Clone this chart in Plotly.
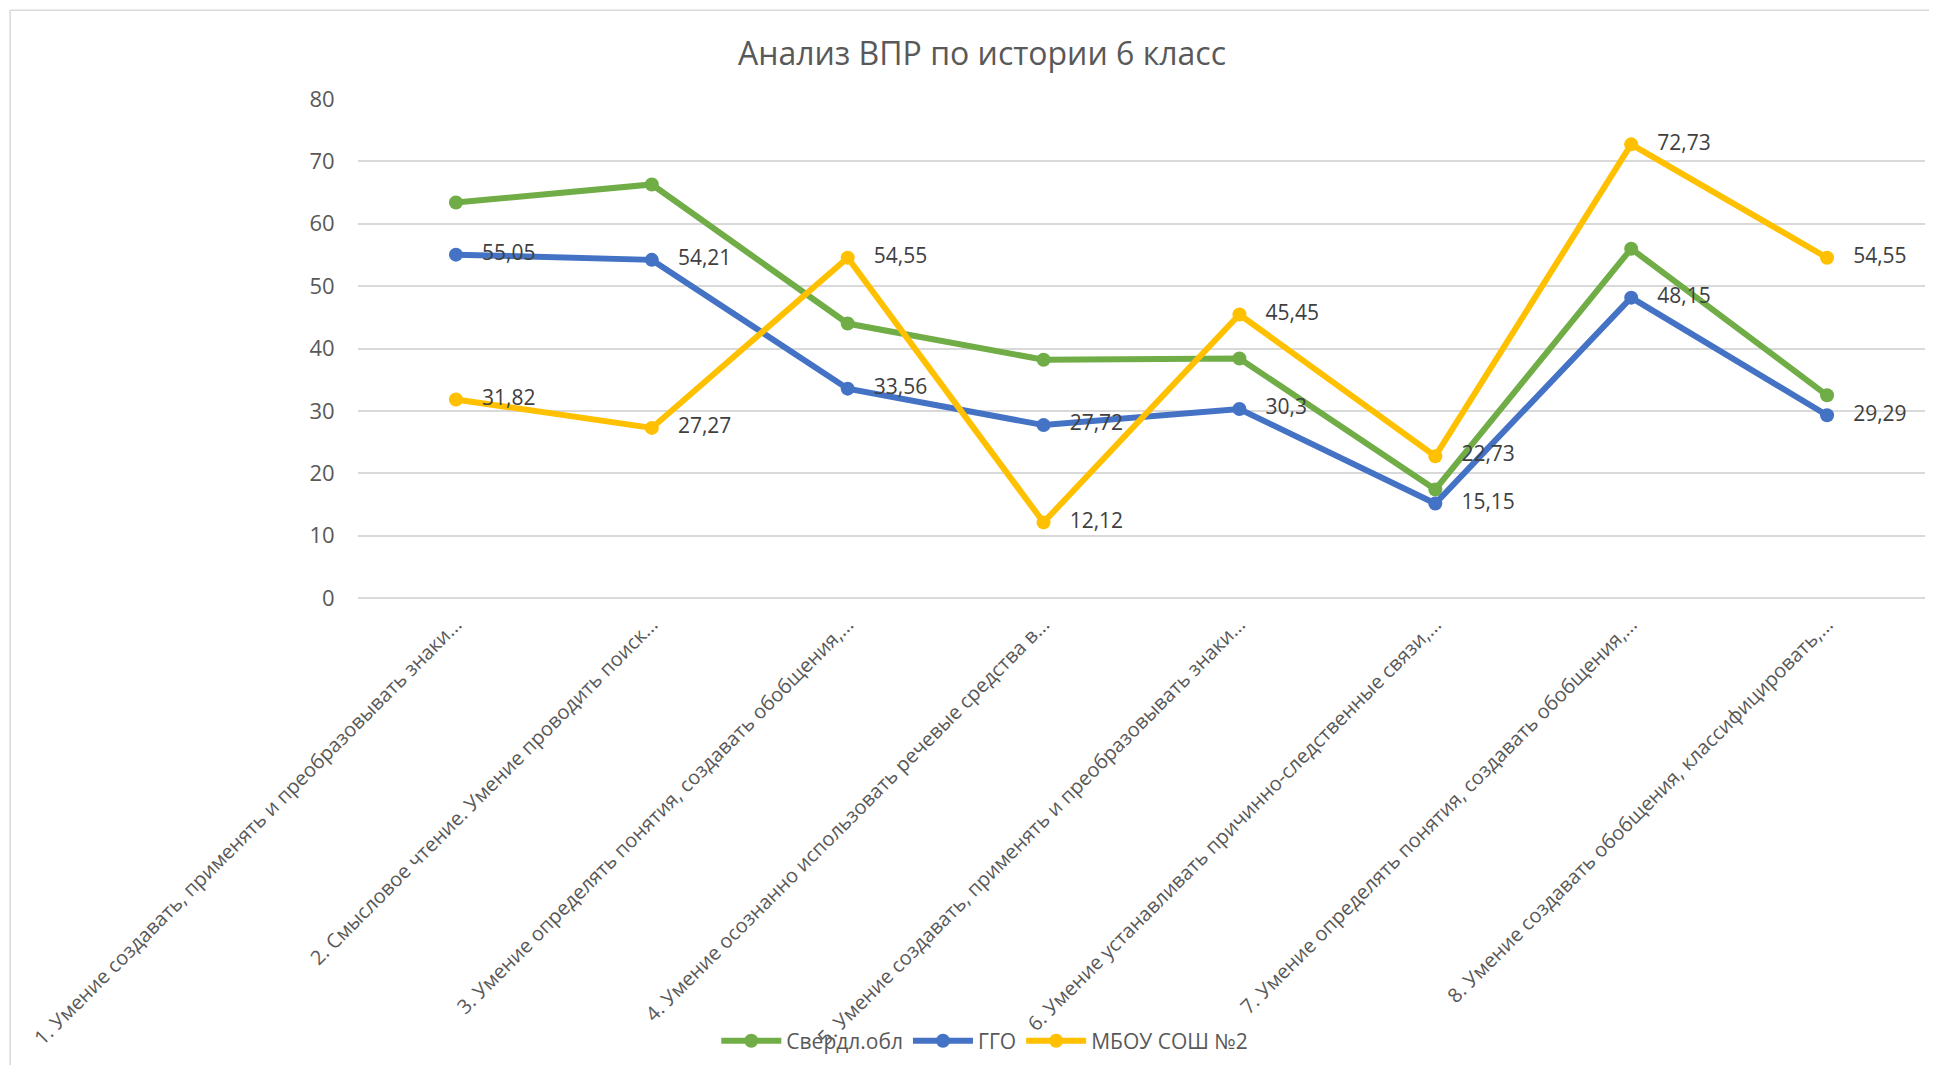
import plotly.graph_objects as go

categories = [
    "1. Умение создавать, применять и преобразовывать знаки...",
    "2. Смысловое чтение. Умение проводить поиск...",
    "3. Умение определять понятия, создавать обобщения,...",
    "4. Умение осознанно использовать речевые средства в...",
    "5. Умение создавать, применять и преобразовывать знаки...",
    "6. Умение устанавливать причинно-следственные связи,...",
    "7. Умение определять понятия, создавать обобщения,...",
    "8. Умение создавать обобщения, классифицировать,...",
]
sverdl = [63.4, 66.3, 44.0, 38.2, 38.4, 17.4, 56.0, 32.5]
ggo = [55.05, 54.21, 33.56, 27.72, 30.3, 15.15, 48.15, 29.29]
mbou = [31.82, 27.27, 54.55, 12.12, 45.45, 22.73, 72.73, 54.55]

FONT = "Open Sans"
TXT = "#595959"


def fmt(v):
    return "   " + f"{v:g}".replace(".", ",")


fig = go.Figure()
fig.add_trace(go.Scatter(
    x=categories, y=sverdl, name="Свердл.обл", mode="lines+markers",
    line=dict(color="#70AD47", width=6), marker=dict(size=14),
))
fig.add_trace(go.Scatter(
    x=categories, y=ggo, name="ГГО", mode="lines+markers+text",
    line=dict(color="#4472C4", width=6), marker=dict(size=14),
    text=[fmt(v) for v in ggo], textposition="middle right",
    textfont=dict(family=FONT, size=21, color="#404040"),
))
fig.add_trace(go.Scatter(
    x=categories, y=mbou, name="МБОУ СОШ №2", mode="lines+markers+text",
    line=dict(color="#FFC000", width=6), marker=dict(size=14),
    text=[fmt(v) for v in mbou], textposition="middle right",
    textfont=dict(family=FONT, size=21, color="#404040"),
))

fig.update_layout(
    width=1921, height=1057,
    margin=dict(l=350, r=4, t=91, b=467),
    plot_bgcolor="white", paper_bgcolor="white",
    font=dict(family=FONT, color=TXT),
    title=dict(text="Анализ ВПР по истории 6 класс", x=0.507, xanchor="center",
               y=0.9565, yanchor="middle", font=dict(size=32, color=TXT)),
    legend=dict(orientation="h", x=0.40, xanchor="center", y=-0.888, yanchor="middle",
                font=dict(size=21, color=TXT), itemwidth=60, bgcolor="rgba(0,0,0,0)"),
    showlegend=True,
)
fig.update_xaxes(
    type="category", tickangle=-45, automargin=False,
    tickfont=dict(size=20, color=TXT), showgrid=False, showline=False,
    ticks="outside", ticklen=6, tickcolor="white",
    range=[-0.5, len(categories) - 0.5],
)
fig.update_yaxes(
    range=[0, 80], dtick=10, automargin=False,
    tickfont=dict(size=22, color=TXT), gridcolor="#D9D9D9", gridwidth=1.5,
    zeroline=True, zerolinecolor="#D9D9D9", zerolinewidth=1.5,
    ticks="outside", ticklen=18, tickcolor="white",
)
fig.add_shape(type="rect", xref="paper", yref="paper", x0=-0.222, x1=1.02, y0=-1.0, y1=1.178,
              line=dict(color="#D9D9D9", width=1.5), layer="below")

fig.write_html("out.html")
